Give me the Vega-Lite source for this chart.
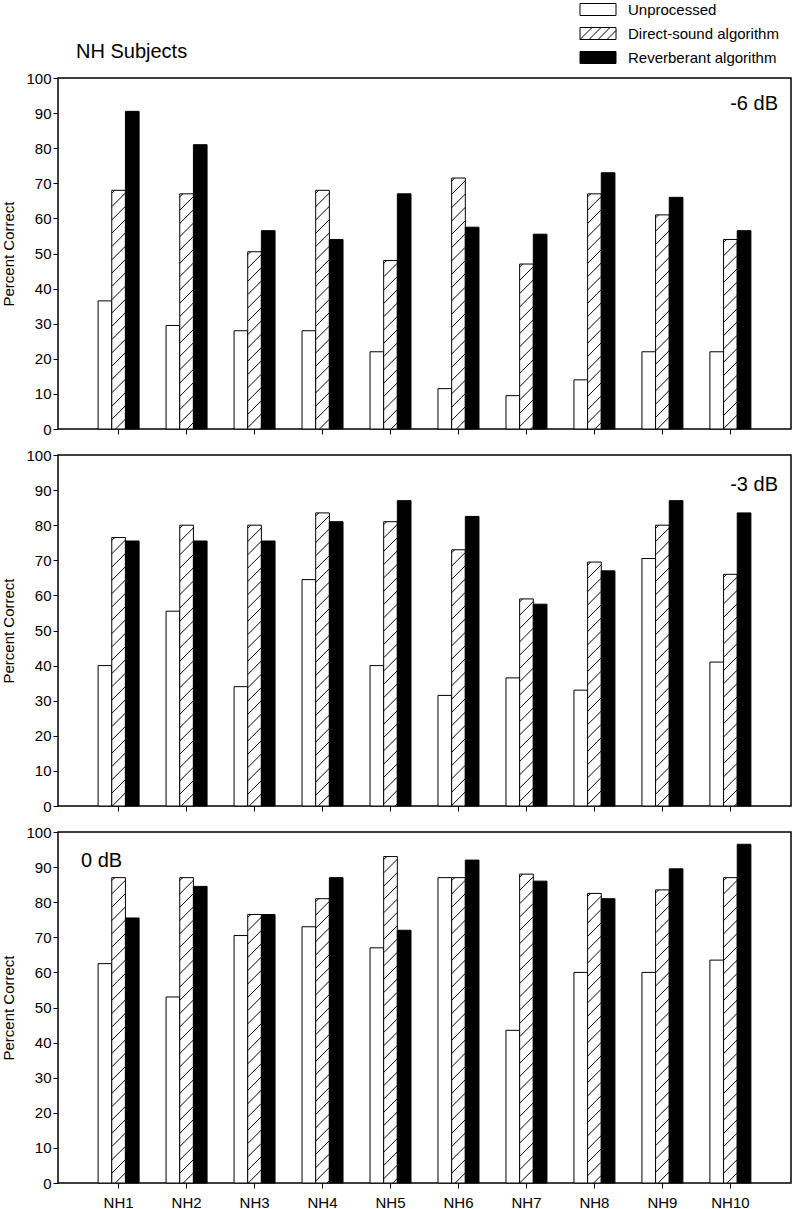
{
  "$schema": "https://vega.github.io/schema/vega-lite/v6.json",
  "padding": {"left": 1, "top": 2, "right": 2, "bottom": 1},
  "config": {
    "font": "Liberation Sans",
    "view": {"stroke": "black", "strokeWidth": 1.5},
    "axis": {"labelFontSize": 15, "titleFontSize": 15, "titleFontWeight": "normal", "labelColor": "black", "titleColor": "black", "tickColor": "black", "domain": false, "grid": false, "tickSize": 5, "tickWidth": 1, "labelOverlap": false},
    "title": {"fontWeight": "normal", "color": "black"},
    "legend": {"labelFontSize": 15, "labelColor": "black"}
  },
  "title": {"text": "NH Subjects", "anchor": "start", "frame": "group", "dx": 18, "fontSize": 20, "offset": -76, "baseline": "alphabetic"},
  "datasets": {
    "scores": [
      {"subject": "NH1", "snr": "-6 dB", "condition": "Unprocessed", "pct": 36.5},
      {"subject": "NH1", "snr": "-6 dB", "condition": "Direct-sound algorithm", "pct": 68},
      {"subject": "NH1", "snr": "-6 dB", "condition": "Reverberant algorithm", "pct": 90.5},
      {"subject": "NH2", "snr": "-6 dB", "condition": "Unprocessed", "pct": 29.5},
      {"subject": "NH2", "snr": "-6 dB", "condition": "Direct-sound algorithm", "pct": 67},
      {"subject": "NH2", "snr": "-6 dB", "condition": "Reverberant algorithm", "pct": 81},
      {"subject": "NH3", "snr": "-6 dB", "condition": "Unprocessed", "pct": 28},
      {"subject": "NH3", "snr": "-6 dB", "condition": "Direct-sound algorithm", "pct": 50.5},
      {"subject": "NH3", "snr": "-6 dB", "condition": "Reverberant algorithm", "pct": 56.5},
      {"subject": "NH4", "snr": "-6 dB", "condition": "Unprocessed", "pct": 28},
      {"subject": "NH4", "snr": "-6 dB", "condition": "Direct-sound algorithm", "pct": 68},
      {"subject": "NH4", "snr": "-6 dB", "condition": "Reverberant algorithm", "pct": 54},
      {"subject": "NH5", "snr": "-6 dB", "condition": "Unprocessed", "pct": 22},
      {"subject": "NH5", "snr": "-6 dB", "condition": "Direct-sound algorithm", "pct": 48},
      {"subject": "NH5", "snr": "-6 dB", "condition": "Reverberant algorithm", "pct": 67},
      {"subject": "NH6", "snr": "-6 dB", "condition": "Unprocessed", "pct": 11.5},
      {"subject": "NH6", "snr": "-6 dB", "condition": "Direct-sound algorithm", "pct": 71.5},
      {"subject": "NH6", "snr": "-6 dB", "condition": "Reverberant algorithm", "pct": 57.5},
      {"subject": "NH7", "snr": "-6 dB", "condition": "Unprocessed", "pct": 9.5},
      {"subject": "NH7", "snr": "-6 dB", "condition": "Direct-sound algorithm", "pct": 47},
      {"subject": "NH7", "snr": "-6 dB", "condition": "Reverberant algorithm", "pct": 55.5},
      {"subject": "NH8", "snr": "-6 dB", "condition": "Unprocessed", "pct": 14},
      {"subject": "NH8", "snr": "-6 dB", "condition": "Direct-sound algorithm", "pct": 67},
      {"subject": "NH8", "snr": "-6 dB", "condition": "Reverberant algorithm", "pct": 73},
      {"subject": "NH9", "snr": "-6 dB", "condition": "Unprocessed", "pct": 22},
      {"subject": "NH9", "snr": "-6 dB", "condition": "Direct-sound algorithm", "pct": 61},
      {"subject": "NH9", "snr": "-6 dB", "condition": "Reverberant algorithm", "pct": 66},
      {"subject": "NH10", "snr": "-6 dB", "condition": "Unprocessed", "pct": 22},
      {"subject": "NH10", "snr": "-6 dB", "condition": "Direct-sound algorithm", "pct": 54},
      {"subject": "NH10", "snr": "-6 dB", "condition": "Reverberant algorithm", "pct": 56.5},
      {"subject": "NH1", "snr": "-3 dB", "condition": "Unprocessed", "pct": 40},
      {"subject": "NH1", "snr": "-3 dB", "condition": "Direct-sound algorithm", "pct": 76.5},
      {"subject": "NH1", "snr": "-3 dB", "condition": "Reverberant algorithm", "pct": 75.5},
      {"subject": "NH2", "snr": "-3 dB", "condition": "Unprocessed", "pct": 55.5},
      {"subject": "NH2", "snr": "-3 dB", "condition": "Direct-sound algorithm", "pct": 80},
      {"subject": "NH2", "snr": "-3 dB", "condition": "Reverberant algorithm", "pct": 75.5},
      {"subject": "NH3", "snr": "-3 dB", "condition": "Unprocessed", "pct": 34},
      {"subject": "NH3", "snr": "-3 dB", "condition": "Direct-sound algorithm", "pct": 80},
      {"subject": "NH3", "snr": "-3 dB", "condition": "Reverberant algorithm", "pct": 75.5},
      {"subject": "NH4", "snr": "-3 dB", "condition": "Unprocessed", "pct": 64.5},
      {"subject": "NH4", "snr": "-3 dB", "condition": "Direct-sound algorithm", "pct": 83.5},
      {"subject": "NH4", "snr": "-3 dB", "condition": "Reverberant algorithm", "pct": 81},
      {"subject": "NH5", "snr": "-3 dB", "condition": "Unprocessed", "pct": 40},
      {"subject": "NH5", "snr": "-3 dB", "condition": "Direct-sound algorithm", "pct": 81},
      {"subject": "NH5", "snr": "-3 dB", "condition": "Reverberant algorithm", "pct": 87},
      {"subject": "NH6", "snr": "-3 dB", "condition": "Unprocessed", "pct": 31.5},
      {"subject": "NH6", "snr": "-3 dB", "condition": "Direct-sound algorithm", "pct": 73},
      {"subject": "NH6", "snr": "-3 dB", "condition": "Reverberant algorithm", "pct": 82.5},
      {"subject": "NH7", "snr": "-3 dB", "condition": "Unprocessed", "pct": 36.5},
      {"subject": "NH7", "snr": "-3 dB", "condition": "Direct-sound algorithm", "pct": 59},
      {"subject": "NH7", "snr": "-3 dB", "condition": "Reverberant algorithm", "pct": 57.5},
      {"subject": "NH8", "snr": "-3 dB", "condition": "Unprocessed", "pct": 33},
      {"subject": "NH8", "snr": "-3 dB", "condition": "Direct-sound algorithm", "pct": 69.5},
      {"subject": "NH8", "snr": "-3 dB", "condition": "Reverberant algorithm", "pct": 67},
      {"subject": "NH9", "snr": "-3 dB", "condition": "Unprocessed", "pct": 70.5},
      {"subject": "NH9", "snr": "-3 dB", "condition": "Direct-sound algorithm", "pct": 80},
      {"subject": "NH9", "snr": "-3 dB", "condition": "Reverberant algorithm", "pct": 87},
      {"subject": "NH10", "snr": "-3 dB", "condition": "Unprocessed", "pct": 41},
      {"subject": "NH10", "snr": "-3 dB", "condition": "Direct-sound algorithm", "pct": 66},
      {"subject": "NH10", "snr": "-3 dB", "condition": "Reverberant algorithm", "pct": 83.5},
      {"subject": "NH1", "snr": "0 dB", "condition": "Unprocessed", "pct": 62.5},
      {"subject": "NH1", "snr": "0 dB", "condition": "Direct-sound algorithm", "pct": 87},
      {"subject": "NH1", "snr": "0 dB", "condition": "Reverberant algorithm", "pct": 75.5},
      {"subject": "NH2", "snr": "0 dB", "condition": "Unprocessed", "pct": 53},
      {"subject": "NH2", "snr": "0 dB", "condition": "Direct-sound algorithm", "pct": 87},
      {"subject": "NH2", "snr": "0 dB", "condition": "Reverberant algorithm", "pct": 84.5},
      {"subject": "NH3", "snr": "0 dB", "condition": "Unprocessed", "pct": 70.5},
      {"subject": "NH3", "snr": "0 dB", "condition": "Direct-sound algorithm", "pct": 76.5},
      {"subject": "NH3", "snr": "0 dB", "condition": "Reverberant algorithm", "pct": 76.5},
      {"subject": "NH4", "snr": "0 dB", "condition": "Unprocessed", "pct": 73},
      {"subject": "NH4", "snr": "0 dB", "condition": "Direct-sound algorithm", "pct": 81},
      {"subject": "NH4", "snr": "0 dB", "condition": "Reverberant algorithm", "pct": 87},
      {"subject": "NH5", "snr": "0 dB", "condition": "Unprocessed", "pct": 67},
      {"subject": "NH5", "snr": "0 dB", "condition": "Direct-sound algorithm", "pct": 93},
      {"subject": "NH5", "snr": "0 dB", "condition": "Reverberant algorithm", "pct": 72},
      {"subject": "NH6", "snr": "0 dB", "condition": "Unprocessed", "pct": 87},
      {"subject": "NH6", "snr": "0 dB", "condition": "Direct-sound algorithm", "pct": 87},
      {"subject": "NH6", "snr": "0 dB", "condition": "Reverberant algorithm", "pct": 92},
      {"subject": "NH7", "snr": "0 dB", "condition": "Unprocessed", "pct": 43.5},
      {"subject": "NH7", "snr": "0 dB", "condition": "Direct-sound algorithm", "pct": 88},
      {"subject": "NH7", "snr": "0 dB", "condition": "Reverberant algorithm", "pct": 86},
      {"subject": "NH8", "snr": "0 dB", "condition": "Unprocessed", "pct": 60},
      {"subject": "NH8", "snr": "0 dB", "condition": "Direct-sound algorithm", "pct": 82.5},
      {"subject": "NH8", "snr": "0 dB", "condition": "Reverberant algorithm", "pct": 81},
      {"subject": "NH9", "snr": "0 dB", "condition": "Unprocessed", "pct": 60},
      {"subject": "NH9", "snr": "0 dB", "condition": "Direct-sound algorithm", "pct": 83.5},
      {"subject": "NH9", "snr": "0 dB", "condition": "Reverberant algorithm", "pct": 89.5},
      {"subject": "NH10", "snr": "0 dB", "condition": "Unprocessed", "pct": 63.5},
      {"subject": "NH10", "snr": "0 dB", "condition": "Direct-sound algorithm", "pct": 87},
      {"subject": "NH10", "snr": "0 dB", "condition": "Reverberant algorithm", "pct": 96.5}
    ]
  },
  "spacing": 9,
  "resolve": {"scale": {"fill": "shared"}, "legend": {"fill": "shared"}},
  "vconcat": [
    {
      "width": 733, "height": 351,
      "data": {"name": "scores"},
      "transform": [{"filter": "datum.snr === '-6 dB'"}],
      "layer": [
        {
          "mark": {"type": "bar", "stroke": "black", "strokeWidth": 1},
          "encoding": {
            "x": {"field": "subject", "type": "nominal", "sort": ["NH1","NH2","NH3","NH4","NH5","NH6","NH7","NH8","NH9","NH10"], "scale": {"paddingInner": 0.397, "paddingOuter": 0.59}, "axis": {"title": null, "labels": false}},
            "xOffset": {"field": "condition", "type": "nominal", "sort": ["Unprocessed", "Direct-sound algorithm", "Reverberant algorithm"], "scale": {"paddingInner": 0, "paddingOuter": 0}},
            "y": {"field": "pct", "type": "quantitative", "scale": {"domain": [0, 100]}, "axis": {"values": [0,10,20,30,40,50,60,70,80,90,100], "title": "Percent Correct", "titlePadding": 9, "labelPadding": 2}},
            "fill": {"field": "condition", "type": "nominal", "scale": {"domain": ["Unprocessed", "Direct-sound algorithm", "Reverberant algorithm"], "range": ["white", "white", "black"]},
              "legend": {"orient": "none", "legendX": 522, "legendY": -76, "title": null, "symbolSize": 100, "symbolOffset": 0, "labelOffset": 33, "rowPadding": 7, "labelFontSize": 15, "symbolStrokeColor": "black", "symbolStrokeWidth": 1, "symbolOpacity": 1,
                "symbolType": {"expr": "datum.value === 'Direct-sound algorithm' ? 'M-1.5,-1.2H5.7V1.2H-1.5ZM-1.5,1.2L0.9,-1.2M0.3,1.2L2.7,-1.2M2.1,1.2L4.5,-1.2M3.9,1.2L5.7,-0.6' : 'M-1.5,-1.2H5.7V1.2H-1.5Z'"}}}
          }
        },
        {
          "transform": [{"filter": "datum.condition === 'Direct-sound algorithm'"}],
          "mark": {"type": "point", "shape": "M-6.8,3L-3.8,0M-6.8,16.3L6.8,2.7M-6.8,29.6L6.8,16M-6.8,42.9L6.8,29.3M-6.8,56.2L6.8,42.6M-6.8,69.5L6.8,55.9M-6.8,82.8L6.8,69.2M-6.8,96.1L6.8,82.5M-6.8,109.4L6.8,95.8M-6.8,122.7L6.8,109.1M-6.8,136L6.8,122.4M-6.8,149.3L6.8,135.7M-6.8,162.6L6.8,149M-6.8,175.9L6.8,162.3M-6.8,189.2L6.8,175.6M-6.8,202.5L6.8,188.9M-6.8,215.8L6.8,202.2M-6.8,229.1L6.8,215.5M-6.8,242.4L6.8,228.8M-6.8,255.7L6.8,242.1M-6.8,269L6.8,255.4M-6.8,282.3L6.8,268.7M-6.8,295.6L6.8,282M-6.8,308.9L6.8,295.3M-6.8,322.2L6.8,308.6M-6.8,335.5L6.8,321.9M-6.8,348.8L6.8,335.2", "size": 4, "filled": false, "stroke": "black", "strokeWidth": 1, "opacity": 1, "clip": true},
          "encoding": {
            "x": {"field": "subject", "type": "nominal", "sort": ["NH1","NH2","NH3","NH4","NH5","NH6","NH7","NH8","NH9","NH10"], "axis": {"title": null, "labels": false}},
            "xOffset": {"field": "condition", "type": "nominal", "sort": ["Unprocessed", "Direct-sound algorithm", "Reverberant algorithm"]},
            "y": {"field": "pct", "type": "quantitative", "axis": {"values": [0,10,20,30,40,50,60,70,80,90,100], "title": "Percent Correct", "titlePadding": 9, "labelPadding": 2}}
          }
        },
        {
          "transform": [{"aggregate": [{"op": "count", "as": "n"}], "groupby": ["snr"]}],
          "mark": {"type": "text", "align": "right", "baseline": "alphabetic", "fontSize": 20, "dx": -13, "dy": 32, "color": "black"},
          "encoding": {"text": {"field": "snr", "type": "nominal"}, "x": {"value": "width"}, "y": {"datum": 100, "type": "quantitative", "axis": {"values": [0,10,20,30,40,50,60,70,80,90,100], "title": "Percent Correct", "titlePadding": 9, "labelPadding": 2}}}
        }
      ]
    },
    {
      "width": 733, "height": 351,
      "data": {"name": "scores"},
      "transform": [{"filter": "datum.snr === '-3 dB'"}],
      "layer": [
        {
          "mark": {"type": "bar", "stroke": "black", "strokeWidth": 1},
          "encoding": {
            "x": {"field": "subject", "type": "nominal", "sort": ["NH1","NH2","NH3","NH4","NH5","NH6","NH7","NH8","NH9","NH10"], "scale": {"paddingInner": 0.397, "paddingOuter": 0.59}, "axis": {"title": null, "labels": false}},
            "xOffset": {"field": "condition", "type": "nominal", "sort": ["Unprocessed", "Direct-sound algorithm", "Reverberant algorithm"], "scale": {"paddingInner": 0, "paddingOuter": 0}},
            "y": {"field": "pct", "type": "quantitative", "scale": {"domain": [0, 100]}, "axis": {"values": [0,10,20,30,40,50,60,70,80,90,100], "title": "Percent Correct", "titlePadding": 9, "labelPadding": 2}},
            "fill": {"field": "condition", "type": "nominal", "scale": {"domain": ["Unprocessed", "Direct-sound algorithm", "Reverberant algorithm"], "range": ["white", "white", "black"]},
              "legend": {"orient": "none", "legendX": 522, "legendY": -76, "title": null, "symbolSize": 100, "symbolOffset": 0, "labelOffset": 33, "rowPadding": 7, "labelFontSize": 15, "symbolStrokeColor": "black", "symbolStrokeWidth": 1, "symbolOpacity": 1,
                "symbolType": {"expr": "datum.value === 'Direct-sound algorithm' ? 'M-1.5,-1.2H5.7V1.2H-1.5ZM-1.5,1.2L0.9,-1.2M0.3,1.2L2.7,-1.2M2.1,1.2L4.5,-1.2M3.9,1.2L5.7,-0.6' : 'M-1.5,-1.2H5.7V1.2H-1.5Z'"}}}
          }
        },
        {
          "transform": [{"filter": "datum.condition === 'Direct-sound algorithm'"}],
          "mark": {"type": "point", "shape": "M-6.8,3L-3.8,0M-6.8,16.3L6.8,2.7M-6.8,29.6L6.8,16M-6.8,42.9L6.8,29.3M-6.8,56.2L6.8,42.6M-6.8,69.5L6.8,55.9M-6.8,82.8L6.8,69.2M-6.8,96.1L6.8,82.5M-6.8,109.4L6.8,95.8M-6.8,122.7L6.8,109.1M-6.8,136L6.8,122.4M-6.8,149.3L6.8,135.7M-6.8,162.6L6.8,149M-6.8,175.9L6.8,162.3M-6.8,189.2L6.8,175.6M-6.8,202.5L6.8,188.9M-6.8,215.8L6.8,202.2M-6.8,229.1L6.8,215.5M-6.8,242.4L6.8,228.8M-6.8,255.7L6.8,242.1M-6.8,269L6.8,255.4M-6.8,282.3L6.8,268.7M-6.8,295.6L6.8,282M-6.8,308.9L6.8,295.3M-6.8,322.2L6.8,308.6M-6.8,335.5L6.8,321.9M-6.8,348.8L6.8,335.2", "size": 4, "filled": false, "stroke": "black", "strokeWidth": 1, "opacity": 1, "clip": true},
          "encoding": {
            "x": {"field": "subject", "type": "nominal", "sort": ["NH1","NH2","NH3","NH4","NH5","NH6","NH7","NH8","NH9","NH10"], "axis": {"title": null, "labels": false}},
            "xOffset": {"field": "condition", "type": "nominal", "sort": ["Unprocessed", "Direct-sound algorithm", "Reverberant algorithm"]},
            "y": {"field": "pct", "type": "quantitative", "axis": {"values": [0,10,20,30,40,50,60,70,80,90,100], "title": "Percent Correct", "titlePadding": 9, "labelPadding": 2}}
          }
        },
        {
          "transform": [{"aggregate": [{"op": "count", "as": "n"}], "groupby": ["snr"]}],
          "mark": {"type": "text", "align": "right", "baseline": "alphabetic", "fontSize": 20, "dx": -13, "dy": 36, "color": "black"},
          "encoding": {"text": {"field": "snr", "type": "nominal"}, "x": {"value": "width"}, "y": {"datum": 100, "type": "quantitative", "axis": {"values": [0,10,20,30,40,50,60,70,80,90,100], "title": "Percent Correct", "titlePadding": 9, "labelPadding": 2}}}
        }
      ]
    },
    {
      "width": 733, "height": 351,
      "data": {"name": "scores"},
      "transform": [{"filter": "datum.snr === '0 dB'"}],
      "layer": [
        {
          "mark": {"type": "bar", "stroke": "black", "strokeWidth": 1},
          "encoding": {
            "x": {"field": "subject", "type": "nominal", "sort": ["NH1","NH2","NH3","NH4","NH5","NH6","NH7","NH8","NH9","NH10"], "scale": {"paddingInner": 0.397, "paddingOuter": 0.59}, "axis": {"title": null, "labels": true, "labelAngle": 0, "labelPadding": 7}},
            "xOffset": {"field": "condition", "type": "nominal", "sort": ["Unprocessed", "Direct-sound algorithm", "Reverberant algorithm"], "scale": {"paddingInner": 0, "paddingOuter": 0}},
            "y": {"field": "pct", "type": "quantitative", "scale": {"domain": [0, 100]}, "axis": {"values": [0,10,20,30,40,50,60,70,80,90,100], "title": "Percent Correct", "titlePadding": 9, "labelPadding": 2}},
            "fill": {"field": "condition", "type": "nominal", "scale": {"domain": ["Unprocessed", "Direct-sound algorithm", "Reverberant algorithm"], "range": ["white", "white", "black"]},
              "legend": {"orient": "none", "legendX": 522, "legendY": -76, "title": null, "symbolSize": 100, "symbolOffset": 0, "labelOffset": 33, "rowPadding": 7, "labelFontSize": 15, "symbolStrokeColor": "black", "symbolStrokeWidth": 1, "symbolOpacity": 1,
                "symbolType": {"expr": "datum.value === 'Direct-sound algorithm' ? 'M-1.5,-1.2H5.7V1.2H-1.5ZM-1.5,1.2L0.9,-1.2M0.3,1.2L2.7,-1.2M2.1,1.2L4.5,-1.2M3.9,1.2L5.7,-0.6' : 'M-1.5,-1.2H5.7V1.2H-1.5Z'"}}}
          }
        },
        {
          "transform": [{"filter": "datum.condition === 'Direct-sound algorithm'"}],
          "mark": {"type": "point", "shape": "M-6.8,3L-3.8,0M-6.8,16.3L6.8,2.7M-6.8,29.6L6.8,16M-6.8,42.9L6.8,29.3M-6.8,56.2L6.8,42.6M-6.8,69.5L6.8,55.9M-6.8,82.8L6.8,69.2M-6.8,96.1L6.8,82.5M-6.8,109.4L6.8,95.8M-6.8,122.7L6.8,109.1M-6.8,136L6.8,122.4M-6.8,149.3L6.8,135.7M-6.8,162.6L6.8,149M-6.8,175.9L6.8,162.3M-6.8,189.2L6.8,175.6M-6.8,202.5L6.8,188.9M-6.8,215.8L6.8,202.2M-6.8,229.1L6.8,215.5M-6.8,242.4L6.8,228.8M-6.8,255.7L6.8,242.1M-6.8,269L6.8,255.4M-6.8,282.3L6.8,268.7M-6.8,295.6L6.8,282M-6.8,308.9L6.8,295.3M-6.8,322.2L6.8,308.6M-6.8,335.5L6.8,321.9M-6.8,348.8L6.8,335.2", "size": 4, "filled": false, "stroke": "black", "strokeWidth": 1, "opacity": 1, "clip": true},
          "encoding": {
            "x": {"field": "subject", "type": "nominal", "sort": ["NH1","NH2","NH3","NH4","NH5","NH6","NH7","NH8","NH9","NH10"], "axis": {"title": null, "labels": true, "labelAngle": 0, "labelPadding": 7}},
            "xOffset": {"field": "condition", "type": "nominal", "sort": ["Unprocessed", "Direct-sound algorithm", "Reverberant algorithm"]},
            "y": {"field": "pct", "type": "quantitative", "axis": {"values": [0,10,20,30,40,50,60,70,80,90,100], "title": "Percent Correct", "titlePadding": 9, "labelPadding": 2}}
          }
        },
        {
          "transform": [{"aggregate": [{"op": "count", "as": "n"}], "groupby": ["snr"]}],
          "mark": {"type": "text", "align": "left", "baseline": "alphabetic", "fontSize": 20, "dx": 23, "dy": 35, "color": "black"},
          "encoding": {"text": {"field": "snr", "type": "nominal"}, "x": {"value": 0}, "y": {"datum": 100, "type": "quantitative", "axis": {"values": [0,10,20,30,40,50,60,70,80,90,100], "title": "Percent Correct", "titlePadding": 9, "labelPadding": 2}}}
        }
      ]
    }
  ]
}
